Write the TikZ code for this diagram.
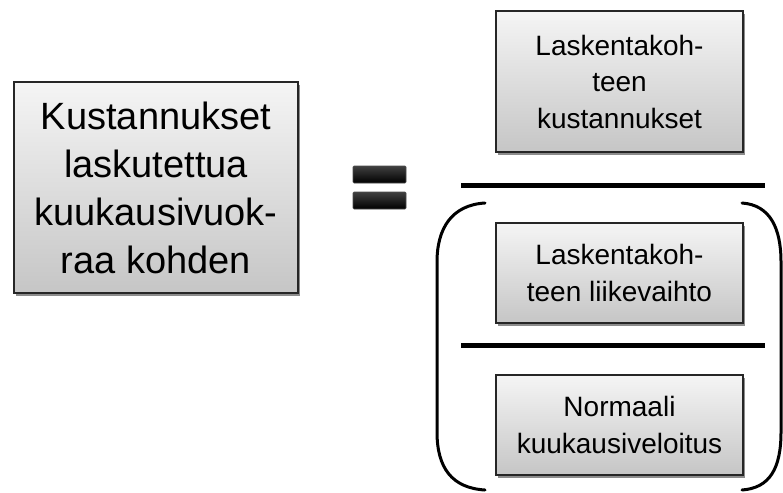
\documentclass[tikz,border=0pt]{standalone}
\usepackage{fontspec}
\setmainfont{Liberation Sans}
\usetikzlibrary{shadows}
\begin{document}
\begin{tikzpicture}[x=1pt,y=-1pt,
  termbox/.style={draw=black!85, line width=1.2pt, top color=gray!8, bottom color=gray!45,
    drop shadow={shadow xshift=2pt, shadow yshift=-3pt, opacity=0.45, fill=black},
    align=center, inner sep=0pt},
  bigtext/.style={font=\fontsize{38}{48}\selectfont},
  smalltext/.style={font=\fontsize{28}{36.5}\selectfont},
  rule/.style={line width=5pt},
  paren/.style={line width=3pt, line cap=round},
  eqbar/.style={draw=black!70, line width=0.6pt, top color=black!75, bottom color=black, rounded corners=1pt}]
\useasboundingbox (0,0) rectangle (783,492);

% left-hand side of the ratio
\node[termbox, bigtext, minimum width=284pt, minimum height=211pt] (lhs) at (156,187.5)
  {Kustannukset\\laskutettua\\kuukausivuok-\\raa kohden};

% equals sign
\node[eqbar, minimum width=53pt, minimum height=17pt, inner sep=0pt] (eqtop) at (379.5,174.5) {};
\node[eqbar, minimum width=53pt, minimum height=17pt, inner sep=0pt] (eqbot) at (379.5,200.5) {};

% numerator
\node[termbox, smalltext, minimum width=247pt, minimum height=141pt] (num) at (619.5,81.5)
  {Laskentakoh-\\teen\\kustannukset};
\draw[rule] (461,185) -- (765,185);

% denominator: inner fraction in brackets
\node[termbox, smalltext, minimum width=247pt, minimum height=100pt] (rev) at (619.5,273)
  {Laskentakoh-\\teen liikevaihto};
\draw[rule] (461,345) -- (765,345);
\node[termbox, smalltext, minimum width=247pt, minimum height=100pt] (fee) at (619.5,425)
  {Normaali\\kuukausiveloitus};

\draw[paren] (485,203) .. controls (452,205) and (437,228) .. (437,262)
  -- (437,432) .. controls (437,468) and (452,488) .. (485,490);
\draw[paren] (742,203) .. controls (770,205) and (781,228) .. (781,262)
  -- (781,432) .. controls (781,468) and (770,488) .. (742,490);
\end{tikzpicture}
\end{document}
